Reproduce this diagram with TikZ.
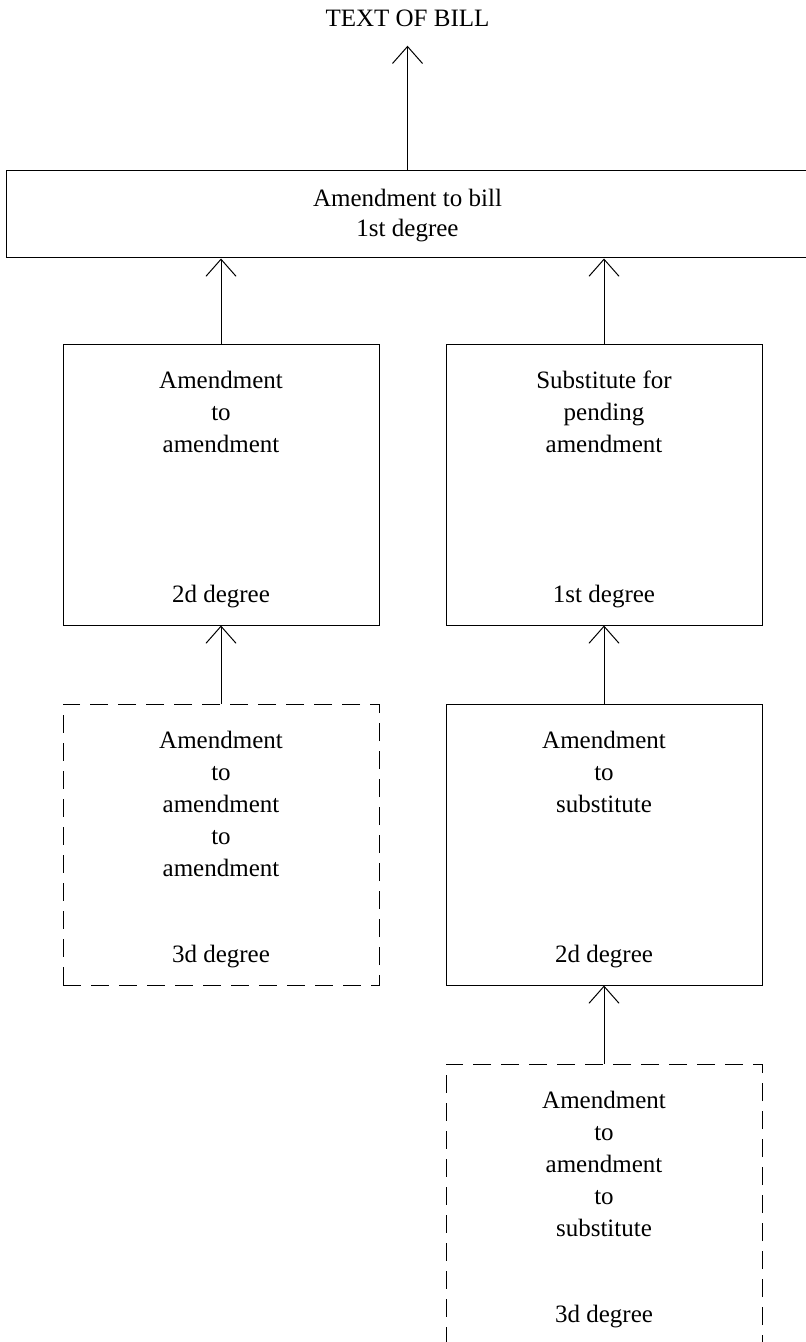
\documentclass[tikz,border=0pt]{standalone}
\usepackage{fontspec}
\setmainfont{Liberation Serif}
\usetikzlibrary{arrows.meta}
\tikzset{
  box/.style={draw, minimum width=158pt, minimum height=140.5pt, inner sep=0pt},
  optbox/.style={box, dash pattern=on 9pt off 5pt},
  txt/.style={align=center, inner sep=0pt, anchor=base, font=\fontsize{12.5}{16}\selectfont},
}
\begin{document}
\begin{tikzpicture}[x=0.5pt, y=-0.5pt, line width=0.5pt]
      \useasboundingbox (0,0) rectangle (805,1342);
      \draw
        (407.5,27) node[txt] (bill) {TEXT OF BILL}
        (407.5,214.5) node[box, minimum width=401pt, minimum height=43.5pt] (a1) {}
        (221,484.5) node[box] (a2) {}
        (604,484.5) node[box] (s1) {}
        (221,844.5) node[optbox] (a3) {}
        (604,844.5) node[box] (s2) {}
        (604,1204.5) node[optbox] (s3) {};
      % multi-line text sits on the baseline of its last line
      \draw
        (407.5,237) node[txt] (a1t) {Amendment to bill\\[-1pt]1st degree}
        (221,452) node[txt] (a2t) {Amendment\\to\\amendment}
        (221,602) node[txt] (a2d) {2d degree}
        (604,452) node[txt] (s1t) {Substitute for\\pending\\amendment}
        (604,602) node[txt] (s1d) {1st degree}
        (221,876) node[txt] (a3t) {Amendment\\to\\amendment\\to\\amendment}
        (221,962) node[txt] (a3d) {3d degree}
        (604,812) node[txt] (s2t) {Amendment\\to\\substitute}
        (604,962) node[txt] (s2d) {2d degree}
        (604,1236) node[txt] (s3t) {Amendment\\to\\amendment\\to\\substitute}
        (604,1322) node[txt] (s3d) {3d degree};
      \begin{scope}[-{Straight Barb[length=8.5pt,width=15pt]}]
        \draw[shorten >=9pt] (a1) to (bill);
        \draw (a2.north) to (a2.north |- a1.south);
        \draw (s1.north) to (s1.north |- a1.south);
        \draw (a3) to (a2);
        \draw (s2) to (s1);
        \draw (s3) to (s2);
      \end{scope}
    \end{tikzpicture}
\end{document}
